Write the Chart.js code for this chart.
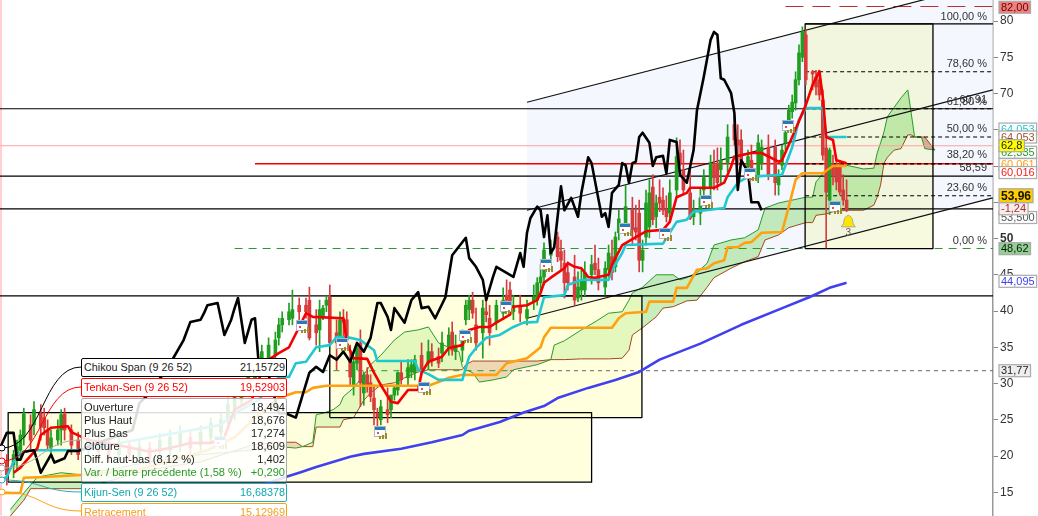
<!DOCTYPE html>
<html>
<head>
<meta charset="utf-8">
<title>Ichimoku</title>
<script src="https://cdn.jsdelivr.net/npm/chart.js@4/dist/chart.umd.min.js"></script>
<style>
  html, body { margin: 0; padding: 0; background: #fff; overflow: hidden; }
  #wrap { position: relative; width: 1038px; height: 516px; overflow: hidden; font-family: "Liberation Sans", Arial, sans-serif; font-size: 11.1px; }
  canvas { position: absolute; left: 0; top: 0; }
  .box { position: absolute; left: 81px; width: 201px; background: #fff; border: 1px solid #000; border-radius: 2px; padding: 0 1px 0 2px; box-sizing: content-box; }
  .row { display: flex; justify-content: space-between; height: 13.1px; line-height: 13.1px; white-space: nowrap; }
  .one { font-size: 10.8px; }
  .one .row { height: 17px; line-height: 17px; }
</style>
</head>
<body>
<div id="wrap">
  <canvas id="chart" width="1038" height="516"></canvas>
  <div class="box one" style="top:358px; border-color:#000; color:#222;"><div class="row"><span>Chikou Span (9 26 52)</span><span>21,15729</span></div></div>
  <div class="box one" style="top:378px; border-color:#f00; color:#f00;"><div class="row"><span>Tenkan-Sen (9 26 52)</span><span>19,52903</span></div></div>
  <div class="box" style="top:398px; height:84px; padding-top:2px; box-sizing:border-box; width:206px; border-color:#aaa; background:rgba(255,255,255,0.86); color:#222;">
    <div class="row"><span>Ouverture</span><span>18,494</span></div>
    <div class="row"><span>Plus Haut</span><span>18,676</span></div>
    <div class="row"><span>Plus Bas</span><span>17,274</span></div>
    <div class="row"><span>Clôture</span><span>18,609</span></div>
    <div class="row"><span>Diff. haut-bas (8,12 %)</span><span>1,402</span></div>
    <div class="row" style="color:#2a9a2a;"><span>Var. / barre précédente (1,58 %)</span><span>+0,290</span></div>
  </div>
  <div class="box one" style="top:483px; border-color:#20b0b8; color:#10a8b0;"><div class="row"><span>Kijun-Sen (9 26 52)</span><span>16,68378</span></div></div>
  <div class="box one" style="top:503px; border-color:#ffa010; color:#f5a020;"><div class="row"><span>Retracement</span><span>15,12969</span></div></div>
</div>
<script>
// price candles (bar number, then open / high / low / close)
const candleBars = [2,4,5,6,7,9,10,12,13,14,15,17,18,19,21,23,26,29,32,35,38,41,44,47,50,53,56,59,62,65,67,69,71,73,75,77,79,81,82,83,85,86,88,90,91,93,94,95,96,97,99,100,101,102,103,104,105,106,107,108,109,110,111,112,114,115,116,117,118,120,121,122,124,126,127,129,130,132,133,134,136,137,138,139,140,142,143,144,146,148,149,150,151,153,155,157,158,159,160,162,164,165,166,167,169,170,171,172,174,175,176,178,179,180,181,182,184,186,187,188,189,190,191,192,193,194,195,196,197,199,200,201,203,204,206,207,209,210,211,212,214,216,217,218,220,221,223,224,226,228,229,230,231,232,233,234,235,236,237,239,240,241,242,243,244,245,246,247,248,249];
const candleOpen = [19.2,18.8,19.7,20.8,22.6,24.3,24.3,25.9,25.3,23.6,
  21.1,22.2,23.6,25.8,23.6,22.2,20.8,21.9,21.5,20.2,
  21.5,19.9,21.1,20.6,20.8,21.3,22.6,21.5,22.6,23.3,
  25.0,25.7,27.7,29.1,30.8,32.2,33.3,33.9,36.3,38.1,
  38.8,39.0,40.8,40.8,41.5,38.1,37.4,39.3,40.8,41.9,
  37.0,36.4,38.8,38.8,33.3,29.8,32.8,35.6,28.7,31.2,
  30.1,28.0,25.9,25.0,26.4,26.4,28.4,29.1,31.5,30.8,
  31.6,31.5,33.9,32.8,34.4,33.7,34.2,35.0,37.1,34.4,
  34.6,38.8,40.2,41.5,38.1,37.0,39.9,39.0,38.4,39.7,
  42.2,42.9,39.9,40.8,39.0,41.3,41.5,43.9,44.7,47.7,
  50.2,48.2,46.6,45.3,44.7,41.8,42.9,42.9,45.0,46.6,
  45.7,43.3,45.7,47.5,46.1,50.8,52.2,53.9,51.5,53.5,
  47.0,50.2,51.6,57.1,53.0,55.7,55.3,53.9,53.5,56.7,
  61.8,59.5,56.3,53.0,53.5,56.7,57.1,60.1,60.4,59.5,
  60.4,65.7,63.6,63.6,59.9,60.8,58.5,60.4,62.6,62.6,
  57.4,60.1,63.2,65.9,67.5,68.7,71.9,75.0,78.1,73.0,
  72.3,71.9,69.1,62.5,55.3,60.1,59.9,59.9,56.7,55.3];
const candleHigh = [20.2,20.8,22.2,23.6,26.6,25.7,27.5,27.1,26.6,25.0,
  23.6,25.0,26.4,26.6,24.3,23.3,22.9,22.8,22.5,22.5,
  22.2,22.2,21.9,23.1,23.6,24.2,23.6,24.2,25.3,25.8,
  28.0,29.4,30.5,31.9,33.3,35.3,36.3,37.1,39.0,39.9,
  41.1,42.9,41.8,41.8,43.3,40.2,41.5,40.8,42.1,43.6,
  38.8,39.9,40.2,39.9,35.3,33.5,35.3,37.4,31.6,32.2,
  31.2,29.8,26.6,27.7,29.4,28.4,29.8,31.6,33.0,33.3,
  33.3,33.9,35.6,36.0,35.5,34.9,37.1,37.7,38.5,36.7,
  37.4,41.5,42.2,42.6,40.4,41.5,41.5,40.8,41.5,43.2,
  44.3,44.0,42.2,42.2,41.5,43.6,44.6,46.4,49.4,49.8,
  50.9,49.8,48.4,46.8,47.7,45.4,45.9,46.8,47.7,49.1,
  47.3,46.8,49.1,49.8,50.9,53.9,57.4,55.7,54.6,55.3,
  49.8,56.7,58.1,58.8,56.0,58.1,57.0,55.9,58.1,63.9,
  63.6,62.2,60.1,55.3,57.0,59.5,61.5,62.2,62.5,62.5,
  65.7,67.0,65.7,65.0,62.2,62.9,64.3,63.6,64.3,63.6,
  59.5,62.9,65.7,68.4,69.8,73.0,76.7,79.2,78.8,73.2,
  73.2,73.0,70.5,64.3,62.5,61.5,60.8,60.8,58.8,58.1];
const candleLow = [16.0,17.0,18.1,19.5,21.5,20.8,22.9,22.2,22.9,20.8,
  20.2,21.5,21.5,22.2,20.2,19.5,19.7,19.7,19.2,19.5,
  19.5,19.2,18.9,19.7,20.0,20.6,20.3,20.8,21.9,22.5,
  24.3,25.0,26.9,28.4,29.8,31.6,32.4,33.3,35.3,37.1,
  38.1,38.1,38.8,39.0,36.0,35.3,34.4,38.8,39.9,35.3,
  31.9,35.3,36.0,35.3,29.8,28.4,31.9,26.8,27.0,28.8,
  27.5,24.3,24.0,24.3,24.6,25.3,27.7,28.4,29.9,29.7,
  30.8,30.5,31.2,31.9,32.4,32.2,33.0,33.9,33.9,33.3,
  33.0,38.1,38.8,39.0,34.6,33.5,38.5,35.3,37.4,38.8,
  39.9,39.5,38.8,38.5,38.1,40.2,40.8,42.6,43.6,46.8,
  46.8,45.7,41.8,42.9,40.8,41.3,41.5,42.1,43.7,45.0,
  42.9,42.2,44.6,44.3,45.4,49.8,50.9,49.1,49.8,45.4,
  45.4,49.1,50.1,51.9,51.5,53.7,53.3,52.3,52.6,55.6,
  60.0,56.0,52.6,51.9,51.9,55.6,56.0,56.7,56.7,57.4,
  59.2,62.9,60.1,60.1,58.8,58.1,57.7,59.5,58.1,56.0,
  56.0,59.5,62.2,65.2,66.6,67.7,71.2,74.4,71.2,70.5,
  69.8,69.1,60.8,48.7,53.3,57.4,56.7,56.0,54.6,53.7];
const candleClose = [17.4,20.2,21.3,22.9,25.8,22.2,26.4,24.0,23.9,21.5,
  22.5,23.6,25.7,23.6,21.5,20.2,22.2,20.6,19.7,21.5,
  20.2,21.3,19.7,22.2,22.6,23.3,21.1,23.3,24.6,25.0,
  27.1,28.4,29.8,31.2,32.6,34.4,35.3,36.0,38.1,39.0,
  39.9,40.2,39.9,39.9,36.3,37.0,40.2,40.4,41.5,35.6,
  35.6,38.8,38.5,36.0,30.9,33.0,34.9,30.1,31.2,29.8,
  28.2,26.4,25.4,26.8,25.7,28.4,29.4,31.5,30.5,32.2,
  32.6,33.3,31.9,34.4,33.3,32.8,35.6,36.7,34.6,35.3,
  36.7,40.8,41.5,39.7,35.6,40.4,39.5,37.0,40.8,41.5,
  41.5,40.2,40.8,39.7,40.2,41.9,43.9,44.7,48.4,48.4,
  47.5,47.0,43.9,43.9,41.5,43.3,44.3,45.3,46.4,45.7,
  43.9,45.9,48.0,45.3,50.2,52.7,54.4,51.2,50.9,47.0,
  48.4,54.9,56.3,52.6,54.9,54.9,53.9,53.0,56.3,61.3,
  60.4,56.7,52.8,53.9,55.6,58.4,60.4,58.4,57.7,60.8,
  64.0,63.6,62.9,60.8,61.3,58.5,63.2,62.6,58.8,57.7,
  58.4,62.2,64.6,67.7,68.8,71.9,75.6,78.5,71.9,72.7,
  70.9,69.8,61.5,56.4,62.2,58.8,57.8,56.4,55.3,53.9];

// ichimoku lines
const tenkanBars = [4,6,8,11,12,15,20,21,26,35,44,50,56,62,66,69,74,78,82,85,88,90,92,101,102,104,108,110,112,115,117,120,123,124,126,130,132,136,138,141,144,146,150,151,155,158,159,160,162,166,167,169,171,173,175,179,180,183,187,190,195,197,199,202,203,210,213,215,216,221,224,229,230,233,237,239,241,242,243,245,246,249];
const tenkanValues = [17.7,18.4,19.5,21.1,22.9,23.9,24.1,23.3,22.2,21.5,20.6,21.1,21.8,21.8,22.6,26.4,27.7,33.0,34.2,35.0,37.8,39.7,39.2,39.0,35.6,33.5,33.4,31.5,29.8,27.5,27.3,29.1,29.1,31.5,33.0,33.7,34.9,35.3,37.4,37.8,37.8,38.4,39.5,40.6,40.8,41.5,42.5,43.9,44.6,45.9,46.6,46.1,45.9,44.7,44.6,45.0,46.4,49.1,50.2,51.0,51.2,52.3,55.7,56.3,57.0,57.0,57.7,59.9,61.3,61.8,61.8,60.6,60.8,64.0,68.4,71.2,73.1,69.5,64.0,63.6,60.8,60.4];
const kijunBars = [0,2,4,6,9,24,40,65,69,76,82,85,87,90,93,97,99,102,106,110,111,122,123,126,129,136,137,138,140,143,147,151,154,158,160,166,167,171,179,180,183,184,195,199,202,204,213,214,217,220,230,233,235,237,242,243,249];
const kijunValues = [16.7,17.1,19.2,20.4,20.8,20.8,22.2,24.3,25.9,27.7,30.9,30.9,32.8,33.0,35.0,35.3,36.4,36.4,36.0,34.6,33.1,33.1,31.9,31.3,30.5,30.5,32.2,33.7,34.9,36.3,36.7,37.8,38.4,38.5,41.9,42.2,43.6,44.3,44.3,45.7,48.0,49.1,49.3,52.3,52.6,53.7,54.2,55.7,57.7,58.5,58.8,62.6,66.4,68.0,68.0,64.0,64.0];
const retraceBars = [0,6,7,13,24,41,61,69,76,82,87,90,92,96,126,129,132,136,146,149,155,159,160,162,180,182,184,190,191,198,199,202,205,208,210,213,214,217,219,221,224,230,232,234,236,242,245,249];
const retraceValues = [14.9,14.9,17.0,17.1,17.4,18.1,20.8,22.6,25.7,28.0,28.8,28.8,29.4,29.7,29.7,30.2,30.8,31.2,31.2,32.8,33.5,35.0,36.4,37.7,37.7,39.0,39.7,39.9,41.3,41.3,43.2,43.2,45.7,45.9,46.6,47.0,48.8,48.8,49.4,49.5,50.8,50.9,54.4,58.1,59.0,59.0,60.0,60.0];
const chikouBars = [0,2,4,5,6,7,10,12,15,16,19,20,23,30,39,41,43,49,54,56,59,60,61,64,66,68,69,70,72,74,75,76,79,82,84,87,91,93,95,97,99,101,103,105,107,109,111,112,114,115,116,119,121,123,124,126,128,131,133,137,138,140,142,143,145,146,151,153,154,155,156,158,159,160,161,162,163,165,166,168,170,171,173,174,177,178,179,180,182,183,184,185,186,187,188,189,191,192,193,195,196,197,199,200,202,204,205,207,209,210,211,212,213,215,216,217,218,220,221,223,224];
const chikouValues = [21.1,23.2,23.2,19.5,19.5,20.6,20.8,17.7,20.2,19.1,19.7,20.7,20.7,22.0,23.6,27.3,28.2,31.9,36.0,38.5,38.8,39.7,40.8,41.1,36.7,38.8,40.4,41.8,35.6,38.8,39.0,33.3,31.2,25.9,25.9,25.3,31.5,32.3,31.6,33.9,33.3,34.4,33.0,35.6,34.4,36.3,41.1,41.1,39.2,37.4,40.4,38.4,41.5,42.6,40.4,40.6,39.0,41.9,47.7,50.1,47.3,46.1,44.3,41.5,44.7,46.1,44.7,48.0,46.1,50.8,52.8,54.4,53.9,50.2,53.2,48.0,48.8,57.2,53.9,55.6,53.0,56.3,61.2,60.4,53.0,53.5,51.6,56.3,57.4,60.4,60.1,57.7,60.4,60.6,64.0,64.6,63.2,60.0,61.2,61.4,59.0,63.6,63.3,58.8,57.7,62.2,67.7,72.3,77.4,78.5,78.1,72.1,71.9,70.1,67.3,56.7,60.8,59.2,55.0,55.0,53.9];
const maBars = [71,84,88,93,103,107,118,127,136,138,147,154,160,164,173,181,188,194,206,218,229,238,244,249];
const maValues = [15.0,17.1,17.7,18.5,19.9,20.3,21.0,21.9,22.9,23.5,24.7,26.0,26.9,28.0,29.4,30.5,31.6,33.3,35.5,38.1,40.2,41.9,43.2,43.9];

// cloud, both edges share the same bars
const cloudBars = [3,7,9,11,18,24,44,59,74,82,87,89,92,93,95,98,100,101,104,107,109,112,116,119,123,126,129,135,136,137,139,141,145,149,151,158,162,163,166,171,175,179,183,185,186,189,193,195,198,200,202,205,208,210,215,219,223,225,229,232,237,239,240,243,245,249,254,257,258,259,260,261,263,265,267,268,269,271,272,275];
const senkouA = [12.6,14.9,16.0,17.1,17.7,17.4,19.2,20.2,20.8,21.3,21.1,21.3,21.9,25.7,25.9,26.4,27.1,28.2,29.4,31.2,32.6,33.9,36.0,37.1,37.4,37.8,35.6,34.4,32.3,31.9,31.5,30.2,30.5,30.9,31.9,32.6,33.3,35.3,35.9,37.4,38.5,39.7,39.9,41.5,42.5,43.3,45.0,45.0,45.0,44.3,44.6,45.3,46.6,49.1,49.8,50.1,51.2,54.2,54.9,55.2,55.7,55.7,57.8,59.5,59.7,60.1,59.6,59.7,61.8,63.2,64.7,66.8,68.1,69.4,70.5,67.3,64.0,64.0,62.4,62.2];
const senkouB = [11.7,13.9,15.5,15.5,15.5,15.5,18.1,19.2,21.5,21.9,21.9,21.3,21.3,24.0,24.0,24.0,24.0,25.0,25.3,27.7,28.7,29.8,30.1,30.8,31.6,31.9,31.9,31.9,31.9,32.6,33.1,33.1,33.1,33.1,33.1,33.1,33.3,33.3,33.3,33.4,33.4,33.4,33.5,34.6,36.7,37.7,39.2,40.4,40.6,41.0,41.4,41.5,43.3,44.6,45.9,46.8,47.5,49.8,50.5,51.5,52.2,52.2,53.2,53.4,53.7,53.9,53.9,54.6,55.7,57.4,60.4,61.2,62.2,62.4,64.3,64.3,64.0,64.0,64.0,62.2];

// drawn objects on the chart
const hLinePrices = [67.9, 58.6, 54.1, 42.1];
const channelBars = [155, 292];
const channelUpper = [68.8, 85.4];
const channelMiddle = [53.9, 70.5];
const channelLower = [39.0, 55.6];
const zoneLeft = [2.4, 97, 236.8];
const zoneRight = [174, 188.8, 274.4];
const zoneTop = [26.0, 42.1, 79.6];
const zoneBottom = [16.4, 25.3, 48.62];
const fibPrices = [73.0, 67.9, 64.0, 60.3, 55.9];
const fibLabels = ["100,00 %", "78,60 %", "61,80 %", "60,91", "50,00 %", "38,20 %", "58,59", "23,60 %", "0,00 %"];
const fibLabelPrices = [80.6, 74.1, 68.8, 69.1, 65.1, 61.5, 59.7, 57.0, 49.7];
const calendarBars = [65, 89, 101, 112, 125, 137, 149, 161, 184, 196, 208, 221, 232, 246];
const calendarPrices = [21.8, 37.8, 35.3, 23.2, 29.2, 36.4, 40.4, 46.2, 51.2, 50.5, 55.0, 58.8, 65.4, 54.2];

// price tags on the right axis, last ones on top
const tagLabels = ["64,053", "64,053", "62,335", "62,8", "60,061", "60,016", "53,500", "53,96", "-1,24", "48,62", "44,095", "31,77", "82,00"];
const tagPrices = [65.1, 64.0, 61.9, 62.8, 60.2, 59.1, 52.9, 55.9, 54.1, 48.6, 44.1, 31.77, 81.9];
const tagText = ["#20c8d0", "#a0522d", "#2a9a2a", "#222", "#ffa010", "#f02020", "#555", "#111", "#a83030", "#111", "#4040f0", "#222", "#600"];
const tagFill = ["#fff", "#fff", "#fff", "#ffff00", "#fff", "#fff", "#fff", "#ffcc00", "#f8ecec", "#90d090", "#fff", "#eeeeee", "#f08080"];

const BAR_MAX = 292.06;
const upColor = "#1f9e1f";
const downColor = "#d63c3c";

function pts(xs, ys) {
  return xs.map((x, i) => ({ x: x, y: ys[i] }));
}

function lineSet(xs, ys, color, width, order, extra) {
  return Object.assign({
    type: "line",
    data: pts(xs, ys),
    borderColor: color,
    backgroundColor: color,
    borderWidth: width,
    pointRadius: 0,
    tension: 0,
    fill: false,
    order: order,
    borderJoinStyle: "round",
  }, extra || {});
}

const datasets = [];

// channel, lavender fill between the outer lines
datasets.push(lineSet(channelBars, channelUpper, "rgba(0,0,0,0)", 0, 100, {
  fill: { target: "+1" }, backgroundColor: "#f5f7ff",
}));
datasets.push(lineSet(channelBars, channelLower, "rgba(0,0,0,0)", 0, 100));

// cloud fill sits under the yellow rectangles, its edges over them
datasets.push(lineSet(cloudBars, senkouA, "rgba(0,0,0,0)", 0, 90, {
  fill: { target: "+1", above: "rgba(125,215,95,0.42)", below: "rgba(175,70,50,0.42)" },
}));
datasets.push(lineSet(cloudBars, senkouB, "rgba(0,0,0,0)", 0, 90));

// rectangles: fill below the top edge, outline as its own line
zoneLeft.forEach((left, i) => {
  const isFib = i == 2;
  datasets.push(lineSet([left, zoneRight[i]], [zoneTop[i], zoneTop[i]], "rgba(0,0,0,0)", 0, isFib ? 95 : 85 - i, {
    fill: { value: zoneBottom[i] },
    backgroundColor: isFib ? "rgba(240,245,190,0.5)" : "rgba(255,255,190,0.5)",
  }));
  const xs = [left, left, zoneRight[i], zoneRight[i], left];
  const ys = [zoneBottom[i], zoneTop[i], zoneTop[i], zoneBottom[i], zoneBottom[i]];
  datasets.push(lineSet(xs, ys, "#000", 1.3, 57));
});

datasets.push(lineSet(cloudBars, senkouA, "#2a9a2a", 1, 70));
datasets.push(lineSet(cloudBars, senkouB, "#a04a20", 1, 70));

// horizontal levels
hLinePrices.forEach((p) => {
  datasets.push(lineSet([0, BAR_MAX], [p, p], "#000", 1.2, 60));
});
datasets.push(lineSet([0, BAR_MAX], [62.8, 62.8], "#ffa0a0", 1.2, 61));
datasets.push(lineSet([75, BAR_MAX], [60.3, 60.3], "#f00000", 1.5, 60));
datasets.push(lineSet([69, BAR_MAX], [48.62, 48.62], "#2a9a2a", 1.1, 60, { borderDash: [8, 6] }));
datasets.push(lineSet([231, BAR_MAX], [82, 82], "#b83030", 1.1, 60, { borderDash: [18, 9] }));
datasets.push(lineSet([91, 150], [31.77, 31.77], "#2a9a2a", 1, 60, { borderDash: [6, 6] }));
datasets.push(lineSet([150, BAR_MAX], [31.77, 31.77], "#666", 1, 60, { borderDash: [4, 4] }));
datasets.push(lineSet([0.3, 0.3], [11.8, 82.9], "#ffb0b0", 1.2, 60));
fibPrices.forEach((p) => {
  datasets.push(lineSet([236.8, BAR_MAX], [p, p], "#000", 1.1, 59, { borderDash: [4, 3] }));
});
datasets.push(lineSet([236.8, BAR_MAX], [79.6, 79.6], "#000", 1.2, 59));
datasets.push(lineSet(channelBars, channelUpper, "#111", 1.2, 58));
datasets.push(lineSet(channelBars, channelMiddle, "#111", 1.2, 58));
datasets.push(lineSet(channelBars, channelLower, "#111", 1.2, 58));

// candles, wicks first and bodies on top
const candleColors = candleClose.map((c, i) => (c >= candleOpen[i] ? upColor : downColor));
datasets.push({
  type: "bar",
  data: candleBars.map((b, i) => ({ x: b, y: [candleLow[i], candleHigh[i]] })),
  backgroundColor: candleColors,
  barThickness: 1,
  grouped: false,
  borderWidth: 0,
  order: 41,
});
datasets.push({
  type: "bar",
  data: candleBars.map((b, i) => ({ x: b, y: [candleOpen[i], candleClose[i]] })),
  backgroundColor: candleColors,
  barThickness: 3,
  grouped: false,
  borderWidth: 0,
  order: 40,
});

datasets.push(lineSet(maBars, maValues, "#4040f0", 2.6, 30));
datasets.push(lineSet(retraceBars, retraceValues, "#ffa010", 2.6, 29));
datasets.push(lineSet(kijunBars, kijunValues, "#20c8d0", 2.6, 28));
datasets.push(lineSet(tenkanBars, tenkanValues, "#f40000", 2.6, 27));
datasets.push(lineSet(chikouBars, chikouValues, "#000", 2.6, 26));

const overlay = {
  id: "overlay",
  afterDatasetsDraw(chart) {
    const ctx = chart.ctx;
    const xs = chart.scales.x;
    const ys = chart.scales.y;

    // little calendar and coins markers
    calendarBars.forEach((b, i) => {
      const cx = Math.round(xs.getPixelForValue(b));
      const cy = Math.round(ys.getPixelForValue(calendarPrices[i]));
      ctx.fillStyle = "#fff";
      ctx.fillRect(cx - 6, cy - 6, 10, 9);
      ctx.strokeStyle = "#b0b8c8";
      ctx.lineWidth = 1;
      ctx.strokeRect(cx - 6.5, cy - 6.5, 11, 10);
      ctx.fillStyle = "#2a7ab8";
      ctx.fillRect(cx - 6, cy - 6, 10, 3);
      ctx.fillStyle = "#e05050";
      ctx.fillRect(cx - 4, cy - 1, 2, 2);
      ctx.fillStyle = "#a08a30";
      ctx.fillRect(cx - 2, cy + 3, 2, 3);
      ctx.fillRect(cx + 1, cy + 2, 2, 4);
      ctx.fillRect(cx + 4, cy, 2, 6);
    });

    // alert bell under the last candle
    const bx = xs.getPixelForValue(249.5);
    const by = ys.getPixelForValue(52.3);
    ctx.beginPath();
    ctx.moveTo(bx - 7, by + 5);
    ctx.quadraticCurveTo(bx - 4, by + 2, bx - 4, by - 3);
    ctx.quadraticCurveTo(bx, by - 10, bx + 4, by - 3);
    ctx.quadraticCurveTo(bx + 4, by + 2, bx + 7, by + 5);
    ctx.closePath();
    ctx.fillStyle = "#ffe600";
    ctx.fill();
    ctx.strokeStyle = "#999";
    ctx.lineWidth = 0.8;
    ctx.stroke();
    ctx.fillStyle = "#555";
    ctx.font = '10px "Liberation Sans"';
    ctx.textAlign = "center";
    ctx.textBaseline = "middle";
    ctx.fillText("3", bx, by + 11);
  },
  afterDraw(chart) {
    const ctx = chart.ctx;
    const ys = chart.scales.y;
    const right = chart.chartArea.right;

    // fibonacci level names
    ctx.textAlign = "right";
    ctx.textBaseline = "middle";
    ctx.font = '11px "Liberation Sans"';
    ctx.fillStyle = "#333";
    fibLabels.forEach((t, i) => {
      ctx.fillText(t, right - 6, ys.getPixelForValue(fibLabelPrices[i]));
    });

    // price tags
    ctx.textAlign = "left";
    tagLabels.forEach((t, i) => {
      const big = t == "53,96";
      ctx.font = (big ? "bold 12px" : "11px") + ' "Liberation Sans"';
      const w = ctx.measureText(t).width + 4;
      const h = big ? 14 : 12;
      const y = ys.getPixelForValue(tagPrices[i]);
      ctx.fillStyle = tagFill[i];
      ctx.fillRect(right + 6, y - h / 2, w, h);
      ctx.strokeStyle = "#aaa";
      ctx.lineWidth = 1.2;
      ctx.strokeRect(right + 6, y - h / 2, w, h);
      ctx.fillStyle = tagText[i];
      ctx.fillText(t, right + 8, y + 0.5);
    });

    // leader curves from the left edge to the info boxes
    const starts = [448, 461, 468, 480, 492];
    const ends = [367, 387, 440, 492, 511];
    const colors = ["#000", "#f00", "#aaa", "#20b0b8", "#ffa010"];
    starts.forEach((s, i) => {
      ctx.beginPath();
      ctx.moveTo(2, s);
      ctx.bezierCurveTo(42, s, 42, ends[i], 81, ends[i]);
      ctx.strokeStyle = colors[i];
      ctx.lineWidth = 1;
      ctx.stroke();
      ctx.beginPath();
      ctx.arc(2, s, 3, 0, Math.PI * 2);
      ctx.fillStyle = "#fff";
      ctx.fill();
      ctx.stroke();
    });
  },
};

new Chart(document.getElementById("chart"), {
  type: "line",
  data: { datasets: datasets },
  plugins: [overlay],
  options: {
    responsive: false,
    animation: false,
    devicePixelRatio: 1,
    layout: { padding: 0 },
    font: { family: '"Liberation Sans"' },
    plugins: {
      legend: { display: false },
      tooltip: { enabled: false },
      filler: { drawTime: "beforeDatasetDraw" },
    },
    scales: {
      x: {
        type: "linear",
        min: 0,
        max: BAR_MAX,
        display: false,
        offset: false,
      },
      y: {
        position: "right",
        min: 11.73,
        max: 82.9,
        afterFit: (s) => { s.width = 45; s.paddingTop = 0; s.paddingBottom = 0; },
        border: { display: true, color: "#999", width: 1.5 },
        grid: { drawOnChartArea: false, drawTicks: true, tickLength: 5, color: "#888" },
        ticks: {
          stepSize: 5,
          includeBounds: false,
          padding: 2,
          color: "#333",
          font: (c) => ({
            family: '"Liberation Sans"',
            size: 12,
            weight: c.tick && c.tick.value == 50 ? "bold" : "normal",
          }),
        },
      },
    },
  },
});
</script>
</body>
</html>
